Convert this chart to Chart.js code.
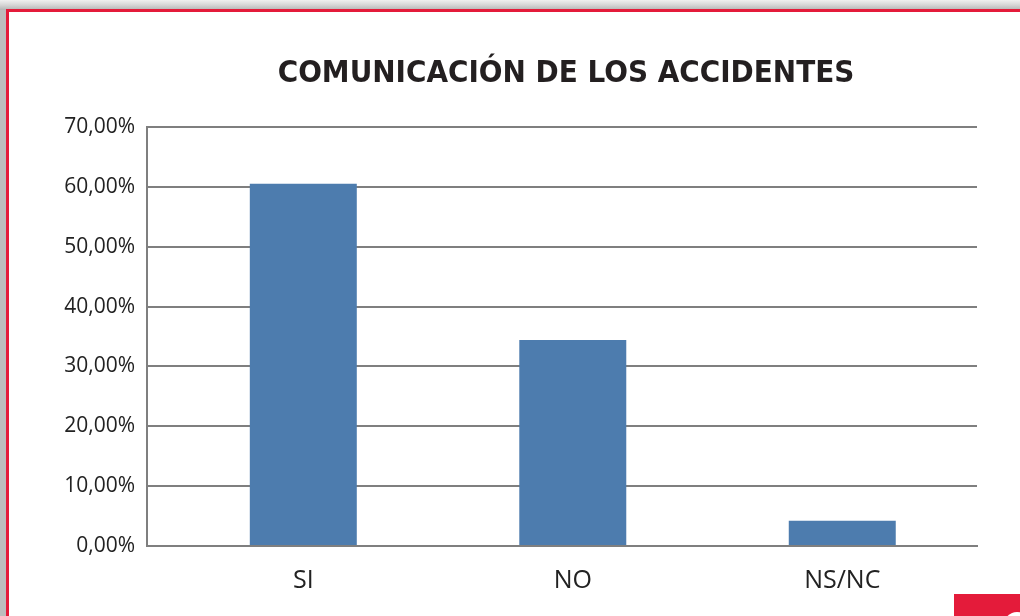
<!DOCTYPE html>
<html>
<head>
<meta charset="utf-8">
<script src="https://cdn.jsdelivr.net/npm/chart.js@4"></script>
<style>
  html, body { margin: 0; padding: 0; }
  body { width: 1020px; height: 616px; overflow: hidden; position: relative; background: #bdbdbd; }
  #topShade { position: absolute; left: 0; top: 0; width: 1020px; height: 10px;
    background: linear-gradient(to bottom, #f0f0f0 0%, #d6d6d6 50%, #b4b4b4 100%); }
  #panel { position: absolute; left: 6px; top: 9px; width: 1100px; height: 700px;
    background: #fff; border-top: 3px solid #e41b3a; border-left: 3px solid #e41b3a; }
  #redTab { position: absolute; left: 954px; top: 594px; width: 80px; height: 30px; background: #e41b3a; overflow: hidden; }
  #redTab div { position: absolute; left: 50px; top: 18px; width: 26px; height: 26px; border-radius: 50%; background: #fff; }
  canvas { position: absolute; left: 0; top: 0; }
</style>
</head>
<body>
<div id="topShade"></div>
<div id="panel"></div>
<div id="redTab"><div></div></div>
<canvas id="myChart" width="1020" height="616"></canvas>
<script>
  const chartTitle = 'COMUNICACIÓN DE LOS ACCIDENTES';
  const categories = ['SI', 'NO', 'NS/NC'];
  const values = [60.5, 34.4, 4.2];
  const yTicks = [0, 10, 20, 30, 40, 50, 60, 70];

  document.addEventListener("DOMContentLoaded", function () {
    const ctx = document.getElementById('myChart').getContext('2d');

    // title drawn centred over the plot area
    const titlePlugin = {
      id: 'plotTitle',
      afterDraw(chart) {
        const c = chart.ctx;
        const area = chart.chartArea;
        c.save();
        c.font = 'bold 31px "Liberation Sans Narrow", "DejaVu Sans Condensed", sans-serif';
        c.fillStyle = '#231f20';
        c.textAlign = 'center';
        c.textBaseline = 'middle';
        c.fillText(chartTitle, (area.left + area.right) / 2 + 4, 74);
        c.restore();
      }
    };

    new Chart(ctx, {
      type: 'bar',
      data: {
        datasets: [{
          data: categories.map((c, i) => ({ x: i, y: values[i] })),
          backgroundColor: '#4d7cae',
          borderWidth: 0,
          barPercentage: 0.397,
          categoryPercentage: 1
        }]
      },
      options: {
        responsive: false,
        animation: false,
        layout: { padding: { left: 0, right: 43, top: 127, bottom: 0 } },
        plugins: {
          legend: { display: false },
          tooltip: { enabled: false },
          title: { display: false }
        },
        scales: {
          x: {
            type: 'linear',
            offset: false,
            min: -0.58,
            max: 2.5,
            grid: { display: false, drawTicks: false },
            border: { display: true, color: '#7f7f7f', width: 2 },
            afterBuildTicks: (s) => { s.ticks = categories.map((c, i) => ({ value: i })); },
            afterFit: (s) => { s.height = 70; },
            ticks: {
              padding: 20,
              color: '#222',
              font: { family: '"Open Sans"', size: 25 },
              callback: (v) => categories[v]
            }
          },
          y: {
            min: 0,
            max: 70,
            grid: { color: '#7f7f7f', lineWidth: 2, drawTicks: false },
            border: { display: true, color: '#7f7f7f', width: 2 },
            afterBuildTicks: (s) => { s.ticks = yTicks.map(v => ({ value: v })); },
            afterFit: (s) => { s.width = 147; },
            ticks: {
              padding: 12,
              color: '#222',
              font: { family: '"Open Sans"', size: 21 },
              callback: (v) => v.toFixed(2).replace('.', ',') + '%'
            }
          }
        }
      },
      plugins: [titlePlugin]
    });
  });
</script>
</body>
</html>
